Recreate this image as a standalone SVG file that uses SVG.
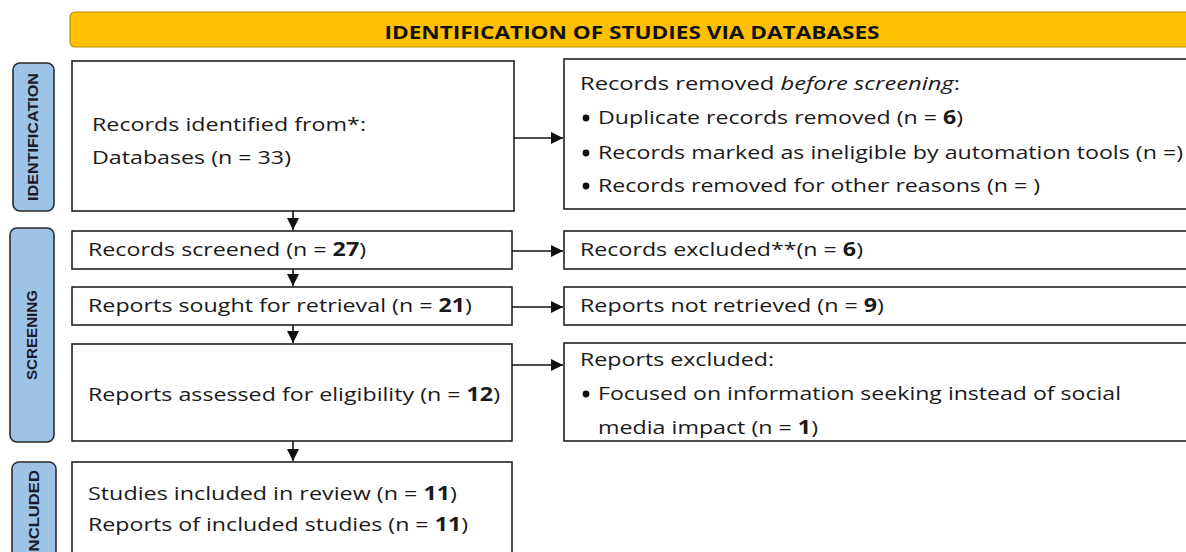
<svg xmlns="http://www.w3.org/2000/svg" width="1186" height="552" viewBox="0 0 1186 552">
  <defs>
    <marker id="arrow" viewBox="0 0 12 12" refX="12" refY="6" markerWidth="12" markerHeight="12" markerUnits="userSpaceOnUse" orient="auto">
      <path d="M0,0 L12,6 L0,12 z" fill="#111"/>
    </marker>
    <style>
      .box { fill: #fff; stroke: #222; stroke-width: 1.6; }
      .tab { fill: #9dc3e6; stroke: #2b2b2b; stroke-width: 1.6; }
      .banner { fill: #ffc000; stroke: #bf9000; stroke-width: 1.2; }
      .t { font-family: "Open Sans", "Noto Sans", "Liberation Sans", sans-serif; font-size: 19px; fill: #1a1a1a; }
      .b { font-weight: bold; }
      .title { font-family: "Open Sans", "Liberation Sans", sans-serif; font-size: 17px; font-weight: bold; fill: #111; }
      .tabtxt { font-family: "Liberation Sans", "Open Sans", sans-serif; font-size: 14px; font-weight: bold; fill: #1a1a2a; }
      .conn { stroke: #111; stroke-width: 1.6; fill: none; }
      .dot { fill: #111; }
    </style>
  </defs>

  <!-- header banner -->
  <g id="header">
    <rect class="banner" x="70" y="12" width="1140" height="35" rx="5"/>
    <text class="title" x="632" y="39" text-anchor="middle" textLength="495" lengthAdjust="spacingAndGlyphs">IDENTIFICATION OF STUDIES VIA DATABASES</text>
  </g>

  <!-- phase tabs -->
  <g id="tab-identification">
    <rect class="tab" x="13" y="63" width="41" height="148" rx="7"/>
    <text class="tabtxt" transform="translate(38,137) rotate(-90)" text-anchor="middle" textLength="128" lengthAdjust="spacingAndGlyphs">IDENTIFICATION</text>
  </g>
  <g id="tab-screening">
    <rect class="tab" x="10" y="228" width="44" height="214" rx="7"/>
    <text class="tabtxt" transform="translate(37,335) rotate(-90)" text-anchor="middle" textLength="90" lengthAdjust="spacingAndGlyphs">SCREENING</text>
  </g>
  <g id="tab-included">
    <rect class="tab" x="12" y="462" width="44" height="140" rx="7"/>
    <text class="tabtxt" transform="translate(39,470) rotate(-90)" text-anchor="end" textLength="86" lengthAdjust="spacingAndGlyphs">INCLUDED</text>
  </g>

  <!-- main flow -->
  <g id="records-identified">
    <rect class="box" x="72" y="61" width="442" height="150"/>
    <text class="t" x="92" y="131" textLength="274" lengthAdjust="spacingAndGlyphs">Records identified from*:</text>
    <text class="t" x="92" y="164" textLength="199" lengthAdjust="spacingAndGlyphs">Databases (n = 33)</text>
  </g>
  <g id="records-removed">
    <rect class="box" x="564" y="59" width="640" height="150"/>
    <text class="t" x="580" y="90" textLength="380" lengthAdjust="spacingAndGlyphs">Records removed <tspan font-style="italic">before screening</tspan>:</text>
    <circle class="dot" cx="586" cy="118" r="3.4"/>
    <text class="t" x="598" y="124" textLength="365" lengthAdjust="spacingAndGlyphs">Duplicate records removed (n = <tspan class="b">6</tspan>)</text>
    <circle class="dot" cx="586" cy="153" r="3.4"/>
    <text class="t" x="598" y="159" textLength="585" lengthAdjust="spacingAndGlyphs">Records marked as ineligible by automation tools (n =)</text>
    <circle class="dot" cx="586" cy="186" r="3.4"/>
    <text class="t" x="598" y="192" textLength="442" lengthAdjust="spacingAndGlyphs">Records removed for other reasons (n = )</text>
  </g>

  <g id="records-screened">
    <rect class="box" x="72" y="231" width="440" height="38"/>
    <text class="t" x="88" y="256" textLength="278" lengthAdjust="spacingAndGlyphs">Records screened (n = <tspan class="b">27</tspan>)</text>
  </g>
  <g id="records-excluded">
    <rect class="box" x="564" y="231" width="640" height="38"/>
    <text class="t" x="580" y="256" textLength="283" lengthAdjust="spacingAndGlyphs">Records excluded**(n = <tspan class="b">6</tspan>)</text>
  </g>

  <g id="reports-sought">
    <rect class="box" x="72" y="287" width="440" height="38"/>
    <text class="t" x="88" y="312" textLength="384" lengthAdjust="spacingAndGlyphs">Reports sought for retrieval (n = <tspan class="b">21</tspan>)</text>
  </g>
  <g id="reports-not-retrieved">
    <rect class="box" x="564" y="287" width="640" height="38"/>
    <text class="t" x="580" y="312" textLength="304" lengthAdjust="spacingAndGlyphs">Reports not retrieved (n = <tspan class="b">9</tspan>)</text>
  </g>

  <g id="reports-assessed">
    <rect class="box" x="72" y="344" width="440" height="97"/>
    <text class="t" x="88" y="401" textLength="412" lengthAdjust="spacingAndGlyphs">Reports assessed for eligibility (n = <tspan class="b">12</tspan>)</text>
  </g>
  <g id="reports-excluded">
    <rect class="box" x="564" y="343" width="640" height="98"/>
    <text class="t" x="580" y="366" textLength="194" lengthAdjust="spacingAndGlyphs">Reports excluded:</text>
    <circle class="dot" cx="586" cy="394" r="3.4"/>
    <text class="t" x="598" y="400" textLength="523" lengthAdjust="spacingAndGlyphs">Focused on information seeking instead of social</text>
    <text class="t" x="598" y="434" textLength="220" lengthAdjust="spacingAndGlyphs">media impact (n = <tspan class="b">1</tspan>)</text>
  </g>

  <g id="studies-included">
    <rect class="box" x="72" y="462" width="440" height="130"/>
    <text class="t" x="88" y="500" textLength="369" lengthAdjust="spacingAndGlyphs">Studies included in review (n = <tspan class="b">11</tspan>)</text>
    <text class="t" x="88" y="531" textLength="380" lengthAdjust="spacingAndGlyphs">Reports of included studies (n = <tspan class="b">11</tspan>)</text>
  </g>

  <!-- connectors -->
  <g id="connectors">
    <line class="conn" x1="293" y1="211" x2="293" y2="230" marker-end="url(#arrow)"/>
    <line class="conn" x1="293" y1="269" x2="293" y2="286" marker-end="url(#arrow)"/>
    <line class="conn" x1="293" y1="325" x2="293" y2="343" marker-end="url(#arrow)"/>
    <line class="conn" x1="293" y1="441" x2="293" y2="461" marker-end="url(#arrow)"/>
    <line class="conn" x1="514" y1="138" x2="563" y2="138" marker-end="url(#arrow)"/>
    <line class="conn" x1="512" y1="251" x2="563" y2="251" marker-end="url(#arrow)"/>
    <line class="conn" x1="512" y1="307" x2="563" y2="307" marker-end="url(#arrow)"/>
    <line class="conn" x1="512" y1="365" x2="563" y2="365" stroke="#555" stroke-width="2" marker-end="url(#arrow)"/>
  </g>
</svg>
